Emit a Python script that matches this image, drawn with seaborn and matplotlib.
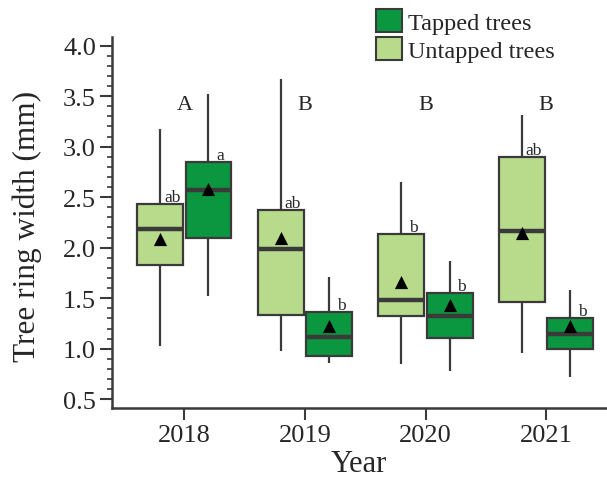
import numpy as np
import pandas as pd
import matplotlib
matplotlib.use("Agg")
import matplotlib.pyplot as plt
from matplotlib.patches import Patch
from matplotlib.ticker import MultipleLocator
import seaborn as sns

sns.set_style("ticks")
plt.rcParams["font.family"] = ["Liberation Serif", "DejaVu Serif"]

# Five-number summaries (whisker low, Q1, median, Q3, whisker high) per year
years = ["2018", "2019", "2020", "2021"]
untapped_lo = [1.03, 0.98, 0.85, 0.96]
untapped_q1 = [1.83, 1.33, 1.32, 1.46]
untapped_med = [2.19, 1.99, 1.48, 2.17]
untapped_q3 = [2.43, 2.37, 2.14, 2.90]
untapped_hi = [3.18, 3.67, 2.65, 3.31]
untapped_mean = [2.09, 2.10, 1.66, 2.15]

tapped_lo = [1.52, 0.86, 0.78, 0.72]
tapped_q1 = [2.10, 0.93, 1.11, 1.00]
tapped_med = [2.57, 1.12, 1.32, 1.15]
tapped_q3 = [2.85, 1.36, 1.55, 1.30]
tapped_hi = [3.52, 1.71, 1.87, 1.58]
tapped_mean = [2.58, 1.22, 1.43, 1.22]

year_letters = ["A", "B", "B", "B"]
untapped_letters = ["ab", "ab", "b", "ab"]
tapped_letters = ["a", "b", "b", "b"]

groups = ["Untapped trees", "Tapped trees"]
colors = {"Untapped trees": "#b8db8b", "Tapped trees": "#0b9640"}
edge = "#3a3a3a"

rows = []
for i, yr in enumerate(years):
    for v in (untapped_lo[i], untapped_q1[i], untapped_med[i], untapped_q3[i], untapped_hi[i]):
        rows.append({"Year": yr, "Group": "Untapped trees", "Width": v})
    for v in (tapped_lo[i], tapped_q1[i], tapped_med[i], tapped_q3[i], tapped_hi[i]):
        rows.append({"Year": yr, "Group": "Tapped trees", "Width": v})
df = pd.DataFrame(rows)

means = pd.DataFrame({
    "Year": years * 2,
    "Group": ["Untapped trees"] * 4 + ["Tapped trees"] * 4,
    "Mean": untapped_mean + tapped_mean,
})

fig = plt.figure(figsize=(6.07, 4.81), dpi=100)
ax = fig.add_axes([112 / 607, 1 - 409 / 481, 1 - 112 / 607, (409 - 38) / 481])

sns.boxplot(
    data=df, x="Year", y="Width", hue="Group", order=years, hue_order=groups,
    palette=colors, saturation=1, width=0.8, gap=0.05, whis=(0, 100),
    showcaps=False, linecolor=edge, linewidth=1.6, legend=False, ax=ax,
    medianprops={"linewidth": 3.2, "color": edge},
    whiskerprops={"linewidth": 1.6, "color": edge},
)

sns.stripplot(
    data=means, x="Year", y="Mean", hue="Group", order=years, hue_order=groups,
    dodge=True, jitter=False, palette=["black", "black"], marker="^", size=9.5,
    linewidth=0, legend=False, ax=ax,
)

# Significance letters
for i, lab in enumerate(year_letters):
    ax.text(i, 3.37, lab, ha="center", va="baseline", fontsize=16)
for i in range(len(years)):
    ax.text(i - 0.2 + 0.1, untapped_q3[i] + 0.03, untapped_letters[i],
            ha="center", va="baseline", fontsize=12.5)
    ax.text(i + 0.2 + 0.1, tapped_q3[i] + 0.03, tapped_letters[i],
            ha="center", va="baseline", fontsize=12.5)

ax.set_xlim(-0.6, 3.505)
ax.set_ylim(0.413, 4.086)
ax.yaxis.set_major_locator(MultipleLocator(0.5))
ax.yaxis.set_minor_locator(MultipleLocator(0.1))
ax.set_yticks(np.arange(0.5, 4.01, 0.5))
ax.set_yticklabels([f"{t:.1f}" for t in np.arange(0.5, 4.01, 0.5)])
ax.set_xlabel("")
ax.set_ylabel("")

for side in ("top", "right"):
    ax.spines[side].set_visible(False)
for side in ("left", "bottom"):
    ax.spines[side].set_linewidth(1.8)
    ax.spines[side].set_color(edge)

ax.tick_params(axis="both", which="major", length=8.5, width=1.5, color=edge,
               labelsize=19, pad=3)
ax.tick_params(axis="y", which="minor", length=3.8, width=1.2, color=edge)

fig.text(27 / 607, 1 - 226.5 / 481, "Tree ring width (mm)", rotation=90,
         ha="center", va="center", fontsize=22.5)
fig.text(358.5 / 607, 1.5 / 481, "Year", ha="center", va="bottom",
         fontsize=22)

handles = [
    Patch(facecolor=colors["Tapped trees"], edgecolor=edge, linewidth=1.5,
          label="Tapped trees"),
    Patch(facecolor=colors["Untapped trees"], edgecolor=edge, linewidth=1.5,
          label="Untapped trees"),
]
fig.legend(handles=handles, loc="upper left",
           bbox_to_anchor=(376 / 607, 1 - 10 / 481), frameon=False,
           fontsize=17.5, handlelength=1.08, handleheight=1.05,
           handletextpad=0.25, labelspacing=0.15, borderpad=0,
           borderaxespad=0)

fig.savefig("out.png", dpi=100)
